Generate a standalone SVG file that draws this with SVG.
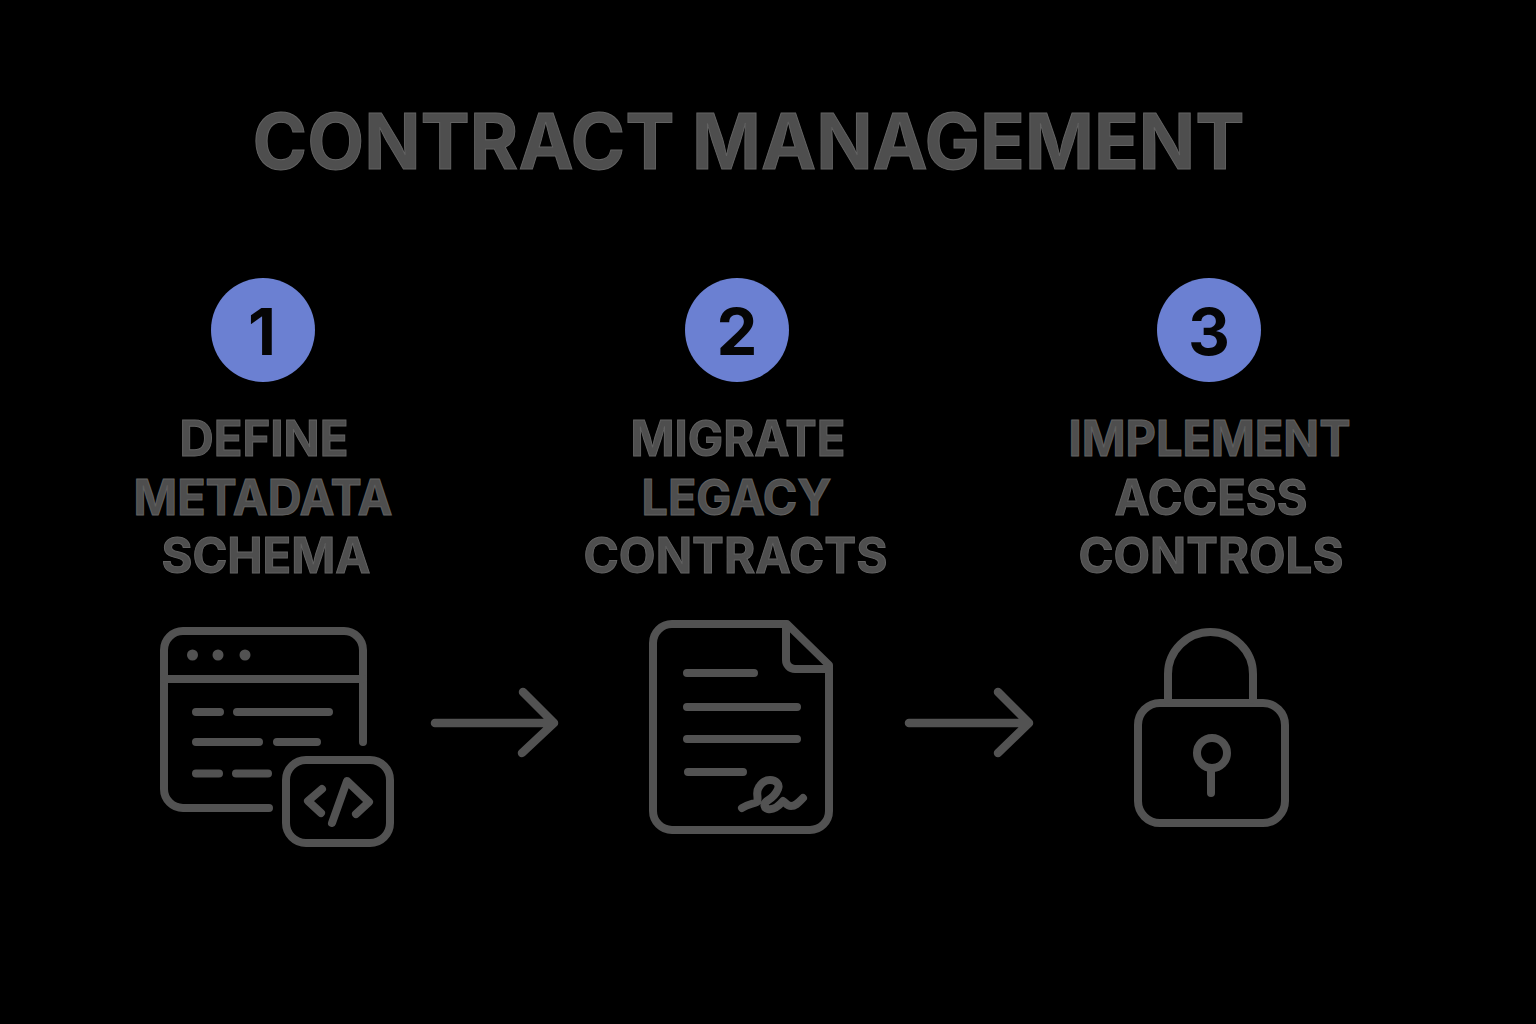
<svg xmlns="http://www.w3.org/2000/svg" width="1536" height="1024" viewBox="0 0 1536 1024">
<style>
.t{font-family:Inter,"Liberation Sans",sans-serif;font-weight:700;fill:#4e4e4e;stroke:#626262;stroke-width:1;text-anchor:middle}
.title{font-size:77px}
.lbl{font-size:49px}
.num{font-family:Inter,"Liberation Sans",sans-serif;font-weight:700;font-size:65px;fill:#050505;text-anchor:middle}
.c{fill:#6b80d2}
.i{fill:none;stroke:#525252;stroke-width:8;stroke-linecap:round;stroke-linejoin:round}
.d{fill:#525252}
</style>
<rect width="1536" height="1024" fill="#000"/>
<text id="title" class="t title" x="748.500" y="168.500" textLength="992" lengthAdjust="spacingAndGlyphs">CONTRACT MANAGEMENT</text>
<g id="step1">
<circle class="c" cx="263" cy="330" r="52"/>
<text class="num" x="262" y="354.500">1</text>
<text class="t lbl" x="264" y="456" textLength="169" lengthAdjust="spacingAndGlyphs">DEFINE</text>
<text class="t lbl" x="263" y="515" textLength="259" lengthAdjust="spacingAndGlyphs">METADATA</text>
<text class="t lbl" x="266" y="573" textLength="209" lengthAdjust="spacingAndGlyphs">SCHEMA</text>
<g class="i">
<path d="M363 742V650a19 19 0 0 0-19-19H183a19 19 0 0 0-19 19V789a19 19 0 0 0 19 19H269"/>
<path d="M164 679H363M196 712H220M237 712H329M196 742H259M277 742H317M196 773.500H219M236 773.500H268"/>
<rect x="286" y="760" width="104" height="83" rx="20"/>
<path d="M322 789L308 801L321 813M332 823L347 781L369 802L356 814"/>
</g>
<circle class="d" cx="192.500" cy="655" r="5.500"/><circle class="d" cx="218" cy="655" r="5.500"/><circle class="d" cx="245" cy="655" r="5.500"/>
</g>
<g id="step2">
<circle class="c" cx="737" cy="330" r="52"/>
<text class="num" x="737" y="354.500">2</text>
<text class="t lbl" x="738" y="456" textLength="215" lengthAdjust="spacingAndGlyphs">MIGRATE</text>
<text class="t lbl" x="736.500" y="515" textLength="190" lengthAdjust="spacingAndGlyphs">LEGACY</text>
<text class="t lbl" x="735.500" y="573" textLength="304" lengthAdjust="spacingAndGlyphs">CONTRACTS</text>
<g class="i">
<path d="M787 624H672a19 19 0 0 0-19 19V811a19 19 0 0 0 19 19H810a19 19 0 0 0 19-19V665Z"/>
<path d="M786 626V660a9 9 0 0 0 9 9H829"/>
<path d="M687 673H754M687 707H797M687 739H797M688 772H743"/>
<path d="M742 808C748 804 753 804 757 802C759 796 755 793 759 787C762 782 766 780 770 780C776 780 780 784 778 789C776 794 772 798 767 801C763 804 764 808 768 809C773 810 778 807 783 801C786 803 787 806 791 806C796 806 799 802 803 798"/>
</g>
</g>
<g id="step3">
<circle class="c" cx="1209" cy="330" r="52"/>
<text class="num" x="1209" y="354.500">3</text>
<text class="t lbl" x="1209.500" y="456" textLength="282" lengthAdjust="spacingAndGlyphs">IMPLEMENT</text>
<text class="t lbl" x="1211" y="515" textLength="193" lengthAdjust="spacingAndGlyphs">ACCESS</text>
<text class="t lbl" x="1211" y="573" textLength="265" lengthAdjust="spacingAndGlyphs">CONTROLS</text>
<g class="i">
<rect x="1138" y="703" width="147" height="120" rx="22"/>
<path d="M1168 700V674a42.500 42 0 0 1 85 0V700"/>
<circle cx="1212" cy="753" r="15"/>
<path d="M1211 769V793"/>
</g>
</g>
<g id="connectors" fill="none" stroke="#525252" stroke-width="8.500" stroke-linecap="round" stroke-linejoin="round">
<path d="M435 723H553M523 692L554 723L522 753"/>
<path d="M909 723H1029M998 692L1029 723L998 753"/>
</g>
</svg>
